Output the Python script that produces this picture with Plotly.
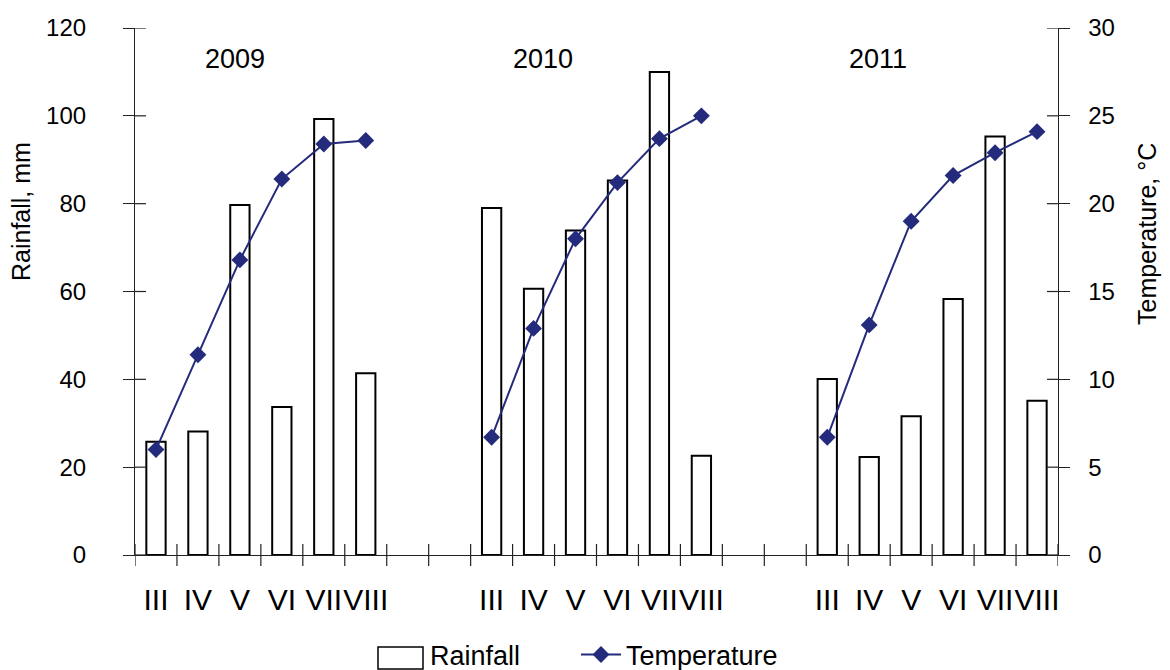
import plotly.graph_objects as go

months = ["III", "IV", "V", "VI", "VII", "VIII"]
years = ["2009", "2010", "2011"]
rain_2009 = [25.8, 28.1, 79.7, 33.7, 99.3, 41.4]
rain_2010 = [79.0, 60.6, 73.9, 85.3, 110.0, 22.6]
rain_2011 = [40.1, 22.3, 31.6, 58.3, 95.3, 35.1]
temp_2009 = [6.0, 11.4, 16.8, 21.4, 23.4, 23.6]
temp_2010 = [6.7, 12.9, 18.0, 21.2, 23.7, 25.0]
temp_2011 = [6.7, 13.1, 19.0, 21.6, 22.9, 24.1]
rain_ticks = [0, 20, 40, 60, 80, 100, 120]
temp_ticks = [0, 5, 10, 15, 20, 25, 30]

rain = [rain_2009, rain_2010, rain_2011]
temp = [temp_2009, temp_2010, temp_2011]
gap = 2  # empty slots between years
step = len(months) + gap
n_slots = len(years) * len(months) + (len(years) - 1) * gap

bx, by, tx, ty, tickpos, ticktext = [], [], [], [], [], []
for g in range(len(years)):
    for i, m in enumerate(months):
        pos = g * step + i
        bx.append(pos)
        by.append(rain[g][i])
        tx.append(pos)
        ty.append(temp[g][i])
        tickpos.append(pos)
        ticktext.append(m)
    tx.append(None)
    ty.append(None)

FONT = "Liberation Sans, Arial, sans-serif"
NAVY = "#252B7C"
OFF = 8  # page body margin offset of the figure div

W, H = 1170 - OFF, 670 - OFF
# target plot area in picture pixels: x 135..1058, y 28..555
L, R, T, B = 135 - OFF, 1170 - 1058, 28 - OFF, 670 - 555
plot_w = W - L - R
plot_h = H - T - B


def px_x(img_x):
    return (img_x - 135) / plot_w


def px_y(img_y):
    return (555 - img_y) / plot_h


fig = go.Figure()
fig.add_trace(go.Bar(
    x=bx, y=by, name="Rainfall", width=0.46, showlegend=False, legendgroup="rain",
    marker=dict(color="white", line=dict(color="black", width=2)),
    yaxis="y",
))
# legend entry for rainfall (its key box is drawn as a shape below)
fig.add_trace(go.Bar(
    x=[None], y=[None], name="Rainfall", legendgroup="rain", legend="legend",
    marker=dict(color="rgba(0,0,0,0)", line=dict(color="rgba(0,0,0,0)", width=0)),
    yaxis="y",
))
fig.add_trace(go.Scatter(
    x=tx, y=ty, name="Temperature", mode="lines+markers", connectgaps=False,
    legend="legend2",
    line=dict(color=NAVY, width=2),
    marker=dict(symbol="diamond", size=13, color=NAVY),
    yaxis="y2",
))

shapes = []
for k in range(n_slots + 1):
    b = k - 0.5
    shapes.append(dict(type="line", xref="x", yref="y domain", ysizemode="pixel",
                       yanchor=0, x0=b, x1=b, y0=-11, y1=11,
                       line=dict(color="#222", width=1.2)))
for v in rain_ticks:
    shapes.append(dict(type="line", xref="x domain", xsizemode="pixel", xanchor=0,
                       x0=0, x1=11, yref="y", y0=v, y1=v,
                       line=dict(color="#222", width=1.2)))
for v in temp_ticks:
    shapes.append(dict(type="line", xref="x domain", xsizemode="pixel", xanchor=1,
                       x0=-11, x1=0, yref="y2", y0=v, y1=v,
                       line=dict(color="#222", width=1.2)))
# legend key box for rainfall
shapes.append(dict(type="rect", xref="paper", yref="paper",
                   x0=px_x(378), x1=px_x(423), y0=px_y(669), y1=px_y(647),
                   fillcolor="white", line=dict(color="black", width=1.5)))

annotations = []
year_px = [235, 543, 878]
for g, yr in enumerate(years):
    annotations.append(dict(x=px_x(year_px[g]), y=113, xref="paper", yref="y",
                            xanchor="center", yanchor="middle",
                            text=yr, showarrow=False,
                            font=dict(family=FONT, size=27, color="black")))
annotations.append(dict(x=px_x(21), y=px_y(212), xref="paper", yref="paper",
                        xanchor="center", yanchor="middle", text="Rainfall, mm",
                        textangle=-90, showarrow=False,
                        font=dict(family=FONT, size=25, color="black")))
annotations.append(dict(x=px_x(1147), y=px_y(234), xref="paper", yref="paper",
                        xanchor="center", yanchor="middle", text="Temperature, °C",
                        textangle=-90, showarrow=False,
                        font=dict(family=FONT, size=25, color="black")))

legend_common = dict(orientation="h", xanchor="left", y=px_y(655), yanchor="middle",
                     font=dict(family=FONT, size=27, color="black"),
                     bgcolor="rgba(0,0,0,0)", itemwidth=40)

NB = "\u00a0\u00a0"
fig.update_layout(
    width=W, height=H,
    margin=dict(l=L, r=R, t=T, b=B, autoexpand=False),
    paper_bgcolor="white", plot_bgcolor="white",
    font=dict(family=FONT, size=24, color="black"),
    showlegend=True,
    legend=dict(x=px_x(380), **legend_common),
    legend2=dict(x=px_x(576), **legend_common),
    xaxis=dict(range=[-0.5, n_slots - 0.5], tickmode="array", tickvals=tickpos,
               ticktext=ticktext, ticks="", tickangle=0, showgrid=False, zeroline=False,
               showline=True, linecolor="#222", linewidth=1.2, automargin=False,
               tickfont=dict(family=FONT, size=30, color="black"),
               ticklabelstandoff=18),
    yaxis=dict(range=[0, 120], tickmode="array", tickvals=rain_ticks,
               ticks="outside", ticklen=11, tickcolor="#222", tickwidth=1.2,
               showline=True, linecolor="#222", linewidth=1.2, automargin=False,
               showgrid=False, zeroline=False,
               tickfont=dict(family=FONT, size=24, color="black"),
               ticklabelstandoff=32),
    yaxis2=dict(range=[0, 30], overlaying="y", side="right", tickmode="array",
                tickvals=temp_ticks, ticktext=[NB + str(v) for v in temp_ticks],
                automargin=False,
                ticks="outside", ticklen=11, tickcolor="#222", tickwidth=1.2,
                showline=True, linecolor="#222", linewidth=1.2,
                showgrid=False, zeroline=False,
                tickfont=dict(family=FONT, size=24, color="black")),
    shapes=shapes,
    annotations=annotations,
)

fig.write_html("out.html")
